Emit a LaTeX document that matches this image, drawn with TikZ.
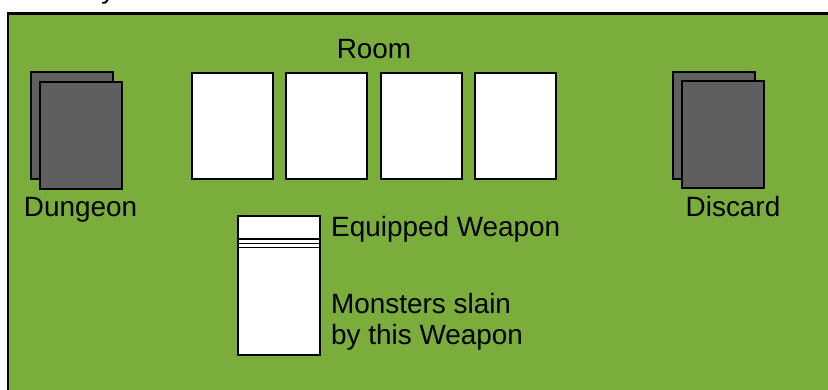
\documentclass[tikz,border=0pt]{standalone}
\usepackage{fontspec}
\setmainfont{Liberation Sans}
\definecolor{felt}{RGB}{122,173,60}
\definecolor{cardgray}{RGB}{95,95,95}
\begin{document}
\begin{tikzpicture}[x=1bp,y=-1bp,
  lbl/.style={font=\fontsize{28}{32}\selectfont, inner sep=0pt, text=black},
  deckcard/.style={draw=black, line width=2bp, fill=cardgray, minimum width=82bp, minimum height=107bp, inner sep=0pt},
  roomcard/.style={draw=black, line width=2bp, fill=white, minimum width=81bp, minimum height=106bp, inner sep=0pt},
  stackline/.style={draw=black, line width=1.6bp}]
\useasboundingbox (0,0) rectangle (828,389);
\clip (0,0) rectangle (828,389);
\fill[white] (0,0) rectangle (828,389);
% table
\draw[line width=2.5bp, fill=felt] (8,13.5) rectangle (845,405);
\node[lbl, anchor=base west] (title) at (5,-1.5) {Table layout:};
% dungeon
\node[deckcard] (dunback) at (72,125.5) {};
\node[deckcard] (dunfront) at (81,135.5) {};
\node[lbl, anchor=base] (dunlbl) at (80.5,216.7) {Dungeon};
% discard
\node[deckcard] (disback) at (714,125.5) {};
\node[deckcard] (disfront) at (723,134.5) {};
\node[lbl, anchor=base] (dislbl) at (733,216) {Discard};
% room
\node[lbl, anchor=base] (roomlbl) at (374,58) {Room};
\node[roomcard] (r1) at (232.5,126) {};
\node[roomcard] (r2) at (326.8,126) {};
\node[roomcard] (r3) at (421.1,126) {};
\node[roomcard] (r4) at (515.4,126) {};
% weapon stack
\node[draw=black, line width=2bp, fill=white, minimum width=82bp, minimum height=139bp, inner sep=0pt] (stack) at (279,285.5) {};
\draw[stackline] (stack.west |- 0,238.8) -- (stack.east |- 0,238.8);
\draw[stackline] (stack.west |- 0,243.3) -- (stack.east |- 0,243.3);
\draw[stackline] (stack.west |- 0,247.6) -- (stack.east |- 0,247.6);
\node[lbl, anchor=base west] (eqlbl) at (331,236.7) {Equipped Weapon};
\node[lbl, anchor=base west] (mon1) at (331,313) {Monsters slain};
\node[lbl, anchor=base west] (mon2) at (331,344) {by this Weapon};
\end{tikzpicture}
\end{document}
